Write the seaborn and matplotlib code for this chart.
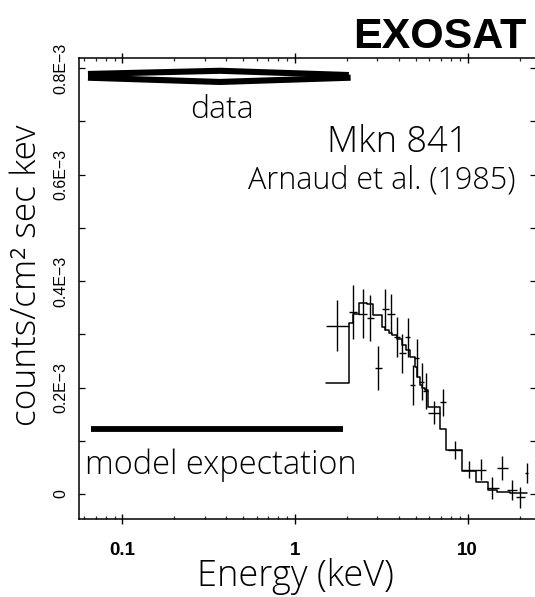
import matplotlib
matplotlib.use("Agg")
import numpy as np
import pandas as pd
import seaborn as sns
import matplotlib.pyplot as plt
from matplotlib.ticker import LogLocator, NullFormatter, FixedLocator

# ---------------- data (flux in units of 1E-3 counts/cm2 s keV) ----------------
E_data = [1.76, 2.18, 2.46, 2.73, 3.03, 3.31, 3.59, 3.89, 4.19, 4.50, 4.81, 5.08,
          5.43, 5.75, 6.40, 7.24, 8.46, 10.2, 12.0, 13.9, 15.9, 18.0, 20.2, 22.0]
E_lo = [1.51, 2.06, 2.33, 2.60, 2.90, 3.18, 3.42, 3.75, 4.02, 4.34, 4.64, 4.91,
        5.26, 5.53, 5.93, 6.93, 7.74, 9.31, 11.0, 12.9, 14.8, 16.8, 19.0, 21.5]
E_hi = [2.06, 2.30, 2.60, 2.87, 3.18, 3.48, 3.77, 4.06, 4.40, 4.64, 4.96, 5.26,
        5.60, 5.93, 6.93, 7.53, 9.26, 11.0, 12.8, 15.1, 17.2, 19.3, 21.5, 22.5]
flux = [0.316, 0.342, 0.339, 0.331, 0.237, 0.347, 0.338, 0.295, 0.264, 0.294, 0.205, 0.256,
        0.211, 0.193, 0.153, 0.172, 0.083, 0.046, 0.046, 0.011, 0.049, 0.008, -0.006, 0.039]
flux_err = [0.048, 0.050, 0.046, 0.043, 0.041, 0.039, 0.037, 0.038, 0.036, 0.036, 0.038, 0.036,
            0.035, 0.034, 0.021, 0.026, 0.017, 0.016, 0.020, 0.021, 0.022, 0.019, 0.020, 0.019]

model_edges = [1.51, 2.06, 2.17, 2.36, 2.60, 2.84, 3.18, 3.33, 3.48, 3.63, 3.92, 4.15, 4.40,
               4.64, 4.96, 5.07, 5.30, 5.43, 5.67, 5.93, 6.93, 7.48, 9.26, 11.2, 13.2, 14.8,
               17.6, 22.0]
model_vals = [0.208, 0.322, 0.339, 0.358, 0.356, 0.336, 0.314, 0.308, 0.302, 0.299, 0.291,
              0.280, 0.270, 0.258, 0.239, 0.220, 0.205, 0.200, 0.195, 0.163, 0.123, 0.083,
              0.044, 0.023, 0.0075, 0.0043, 0.0013]

bow_upper_E = [0.0631, 0.367, 2.05]
bow_upper_f = [0.789, 0.795, 0.787]
bow_lower_E = [0.0631, 0.367, 2.10]
bow_lower_f = [0.782, 0.774, 0.782]

expect_E = [0.0657, 1.90]
expect_f = [0.122, 0.122]

ytick_vals = [0, 0.2, 0.4, 0.6, 0.8]
ytick_labels = ["0", "0.2E\u22123", "0.4E\u22123", "0.6E\u22123", "0.8E\u22123"]
xtick_vals = [0.1, 1, 10]
xtick_labels = ["0.1", "1", "10"]

# ---------------- figure ----------------
sns.set_theme(style="ticks")
plt.rcParams["font.family"] = ["Open Sans", "DejaVu Sans"]
plt.rcParams["axes.linewidth"] = 1.1

W, H = 535, 597
fig = plt.figure(figsize=(W / 100, H / 100), dpi=100)
fig.patch.set_facecolor("white")
ax = fig.add_axes([79 / W, 1 - 518.5 / H, (536 - 79) / W, (518.5 - 58) / H])
ax.set_facecolor("white")
for s in ax.spines.values():
    s.set_color("black")
    s.set_linewidth(1.1)

ax.set_xscale("log")

# model step histogram
df_model = pd.DataFrame({"E": model_edges, "f": model_vals + [model_vals[-1]]})
sns.lineplot(data=df_model, x="E", y="f", ax=ax, color="black", lw=1.1,
             drawstyle="steps-post", sort=False, estimator=None)

# data crosses
E_arr = np.array(E_data)
xerr = [E_arr - np.array(E_lo), np.array(E_hi) - E_arr]
ax.errorbar(E_data, flux, xerr=xerr, yerr=flux_err, fmt="none",
            ecolor="black", elinewidth=1.0, capsize=0)

# "data" bow-tie
for bx, by in [(bow_upper_E, bow_upper_f), (bow_lower_E, bow_lower_f)]:
    sns.lineplot(x=bx, y=by, ax=ax, color="black", lw=4.4, sort=False,
                 estimator=None, solid_capstyle="butt")

# model expectation bar
sns.lineplot(x=expect_E, y=expect_f, ax=ax, color="black", lw=4.2, sort=False,
             estimator=None, solid_capstyle="butt")

ax.set_xlim(0.056, 24.9)
ax.set_ylim(-0.046, 0.819)

ax.set_xticks(xtick_vals)
ax.set_xticklabels(xtick_labels)
ax.xaxis.set_minor_locator(LogLocator(base=10, subs=np.arange(2, 10)))
ax.xaxis.set_minor_formatter(NullFormatter())
ax.set_yticks(ytick_vals)
ax.set_yticklabels(ytick_labels)
ax.yaxis.set_minor_locator(FixedLocator([0.1, 0.3, 0.5, 0.7]))

ax.tick_params(axis="x", which="major", direction="inout", length=6.5, width=1.0,
               top=True, labelsize=13.5, pad=14, colors="black")
ax.tick_params(axis="x", which="minor", direction="in", length=2.5, width=0.9, top=True)
ax.tick_params(axis="y", which="both", direction="in", length=4.3, width=0.9,
               right=True, labelsize=11.5, pad=7.5, labelrotation=90, colors="black")
for lab in ax.get_xticklabels():
    lab.set_fontweight("bold")
    lab.set_family(["Liberation Sans", "DejaVu Sans"])
for lab in ax.get_yticklabels():
    lab.set_family(["Liberation Sans", "DejaVu Sans"])
    lab.set_va("center")

ax.set_xlabel("Energy (keV)", fontsize=26, fontweight="light", color="black")
ax.xaxis.label.set_va("baseline")
ax.xaxis.set_label_coords((295 - 79) / 457, (518.5 - 586) / 460.5)
ax.set_ylabel("counts/cm\u00b2 sec kev", fontsize=25.5, fontweight="light", color="black")
ax.yaxis.set_label_coords((44 - 79) / 457, (518.5 - 275) / 460.5)

def fx(px):
    return px / W

def fy(py):
    return 1 - py / H

fig.text(fx(527), fy(48), "EXOSAT", ha="right", va="baseline", fontsize=31,
         fontweight="bold", family=["Liberation Sans", "DejaVu Sans"], color="black")
fig.text(fx(222), fy(118), "data", ha="center", va="baseline", fontsize=23,
         fontweight="light", color="black")
fig.text(fx(398), fy(152), "Mkn 841", ha="center", va="baseline", fontsize=26,
         fontweight="light", color="black")
fig.text(fx(515), fy(189), "Arnaud et al. (1985)", ha="right", va="baseline", fontsize=22,
         fontweight="light", color="black")
fig.text(fx(221), fy(474), "model expectation", ha="center", va="baseline", fontsize=23.5,
         fontweight="light", color="black")

fig.savefig("out.png", dpi=100, facecolor="white")
